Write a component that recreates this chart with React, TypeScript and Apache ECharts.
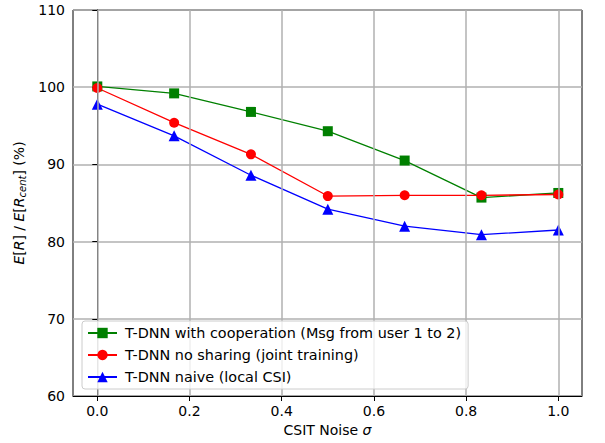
import React, { useEffect, useRef } from "react";
import * as echarts from "echarts";

const sigma = [0, 0.1667, 0.3333, 0.5, 0.6667, 0.8333, 1.0];
const coopValues = [100.1, 99.2, 96.8, 94.3, 90.5, 85.7, 86.3];
const noShareValues = [99.9, 95.4, 91.3, 85.9, 86.0, 86.0, 86.1];
const naiveValues = [97.8, 93.7, 88.6, 84.2, 82.0, 80.9, 81.5];
const xTicks = [0, 0.2, 0.4, 0.6, 0.8, 1.0];
const seriesNames = [
  "T-DNN with cooperation (Msg from user 1 to 2)",
  "T-DNN no sharing (joint training)",
  "T-DNN naive (local CSI)",
];

const FONT = "DejaVu Sans";
const FS = 14;

export default function App() {
  const ref = useRef<HTMLDivElement>(null);
  useEffect(() => {
    if (!ref.current) return;
    const chart = echarts.init(ref.current, null, { renderer: "svg" });
    const pair = (vals: number[]) => sigma.map((x, i) => [x, vals[i]]);
    const mk = (name: string, vals: number[], color: string, symbol: string, size: number) => ({
      name,
      type: "line",
      data: pair(vals),
      symbol,
      symbolSize: size,
      lineStyle: { color, width: 1.3 },
      itemStyle: { color },
      z: 3,
    });
    chart.setOption({
      animation: false,
      textStyle: { fontFamily: FONT },
      grid: { left: 73, top: 10, right: 23, bottom: 47, show: true, borderColor: "#000", borderWidth: 1, containLabel: false },
      xAxis: {
        type: "value",
        min: -0.0527,
        max: 1.0514,
        name: "CSIT Noise {i|σ}",
        nameLocation: "middle",
        nameGap: 27,
        nameTextStyle: {
          fontFamily: FONT,
          fontSize: FS,
          color: "#000",
          rich: { i: { fontStyle: "italic", fontSize: FS, fontFamily: FONT, color: "#000" } },
        },
        axisLine: { show: true, lineStyle: { color: "#000", width: 1 } },
        axisTick: { show: true, inside: false, length: 5, lineStyle: { color: "#000" }, customValues: xTicks },
        axisLabel: { customValues: xTicks, formatter: (v: number) => v.toFixed(1), color: "#000", fontSize: FS, fontFamily: FONT, margin: 8 },
        splitLine: { show: false },
      },
      yAxis: {
        type: "value",
        min: 60,
        max: 110,
        interval: 10,
        name: "{i|E}[{i|R}] / {i|E}[{i|R}{s|cent}] (%)",
        nameLocation: "middle",
        nameGap: 44,
        nameTextStyle: {
          fontFamily: FONT,
          fontSize: FS,
          color: "#000",
          rich: {
            i: { fontStyle: "italic", fontSize: FS, fontFamily: FONT, color: "#000" },
            s: { fontStyle: "italic", fontSize: 10, fontFamily: FONT, color: "#000", verticalAlign: "bottom", padding: [6, 0, 0, 0] },
          },
        },
        axisLine: { show: true, lineStyle: { color: "#000", width: 1 } },
        axisTick: { show: true, inside: false, length: 5, lineStyle: { color: "#000" } },
        axisLabel: { color: "#000", fontSize: FS, fontFamily: FONT, margin: 8 },
        splitLine: { show: true, lineStyle: { color: "#b0b0b0", width: 1.5 } },
      },
      legend: {
        orient: "vertical",
        left: 82,
        top: 321,
        padding: [5, 7, 5, 5],
        itemWidth: 29,
        itemHeight: 13,
        itemGap: 8,
        borderColor: "#cccccc",
        borderWidth: 1,
        borderRadius: 3,
        backgroundColor: "rgba(255,255,255,0.8)",
        textStyle: { fontFamily: FONT, fontSize: 14.4, color: "#000", padding: [0, 0, 0, 3] },
        data: seriesNames,
        z: 10,
      },
      series: [
        {
          type: "line",
          data: [],
          silent: true,
          markLine: {
            silent: true,
            symbol: "none",
            label: { show: false },
            lineStyle: { color: "#b0b0b0", width: 1.5, type: "solid" },
            data: xTicks.map((x) => ({ xAxis: x })),
          },
          z: 1,
        },
        mk(seriesNames[0], coopValues, "#008000", "rect", 10),
        mk(seriesNames[1], noShareValues, "#ff0000", "circle", 10),
        mk(seriesNames[2], naiveValues, "#0000ff", "triangle", 11),
      ],
    });
    return () => chart.dispose();
  }, []);
  return <div ref={ref} style={{ width: 605, height: 443, position: "absolute", left: 0, top: 0 }} />;
}
